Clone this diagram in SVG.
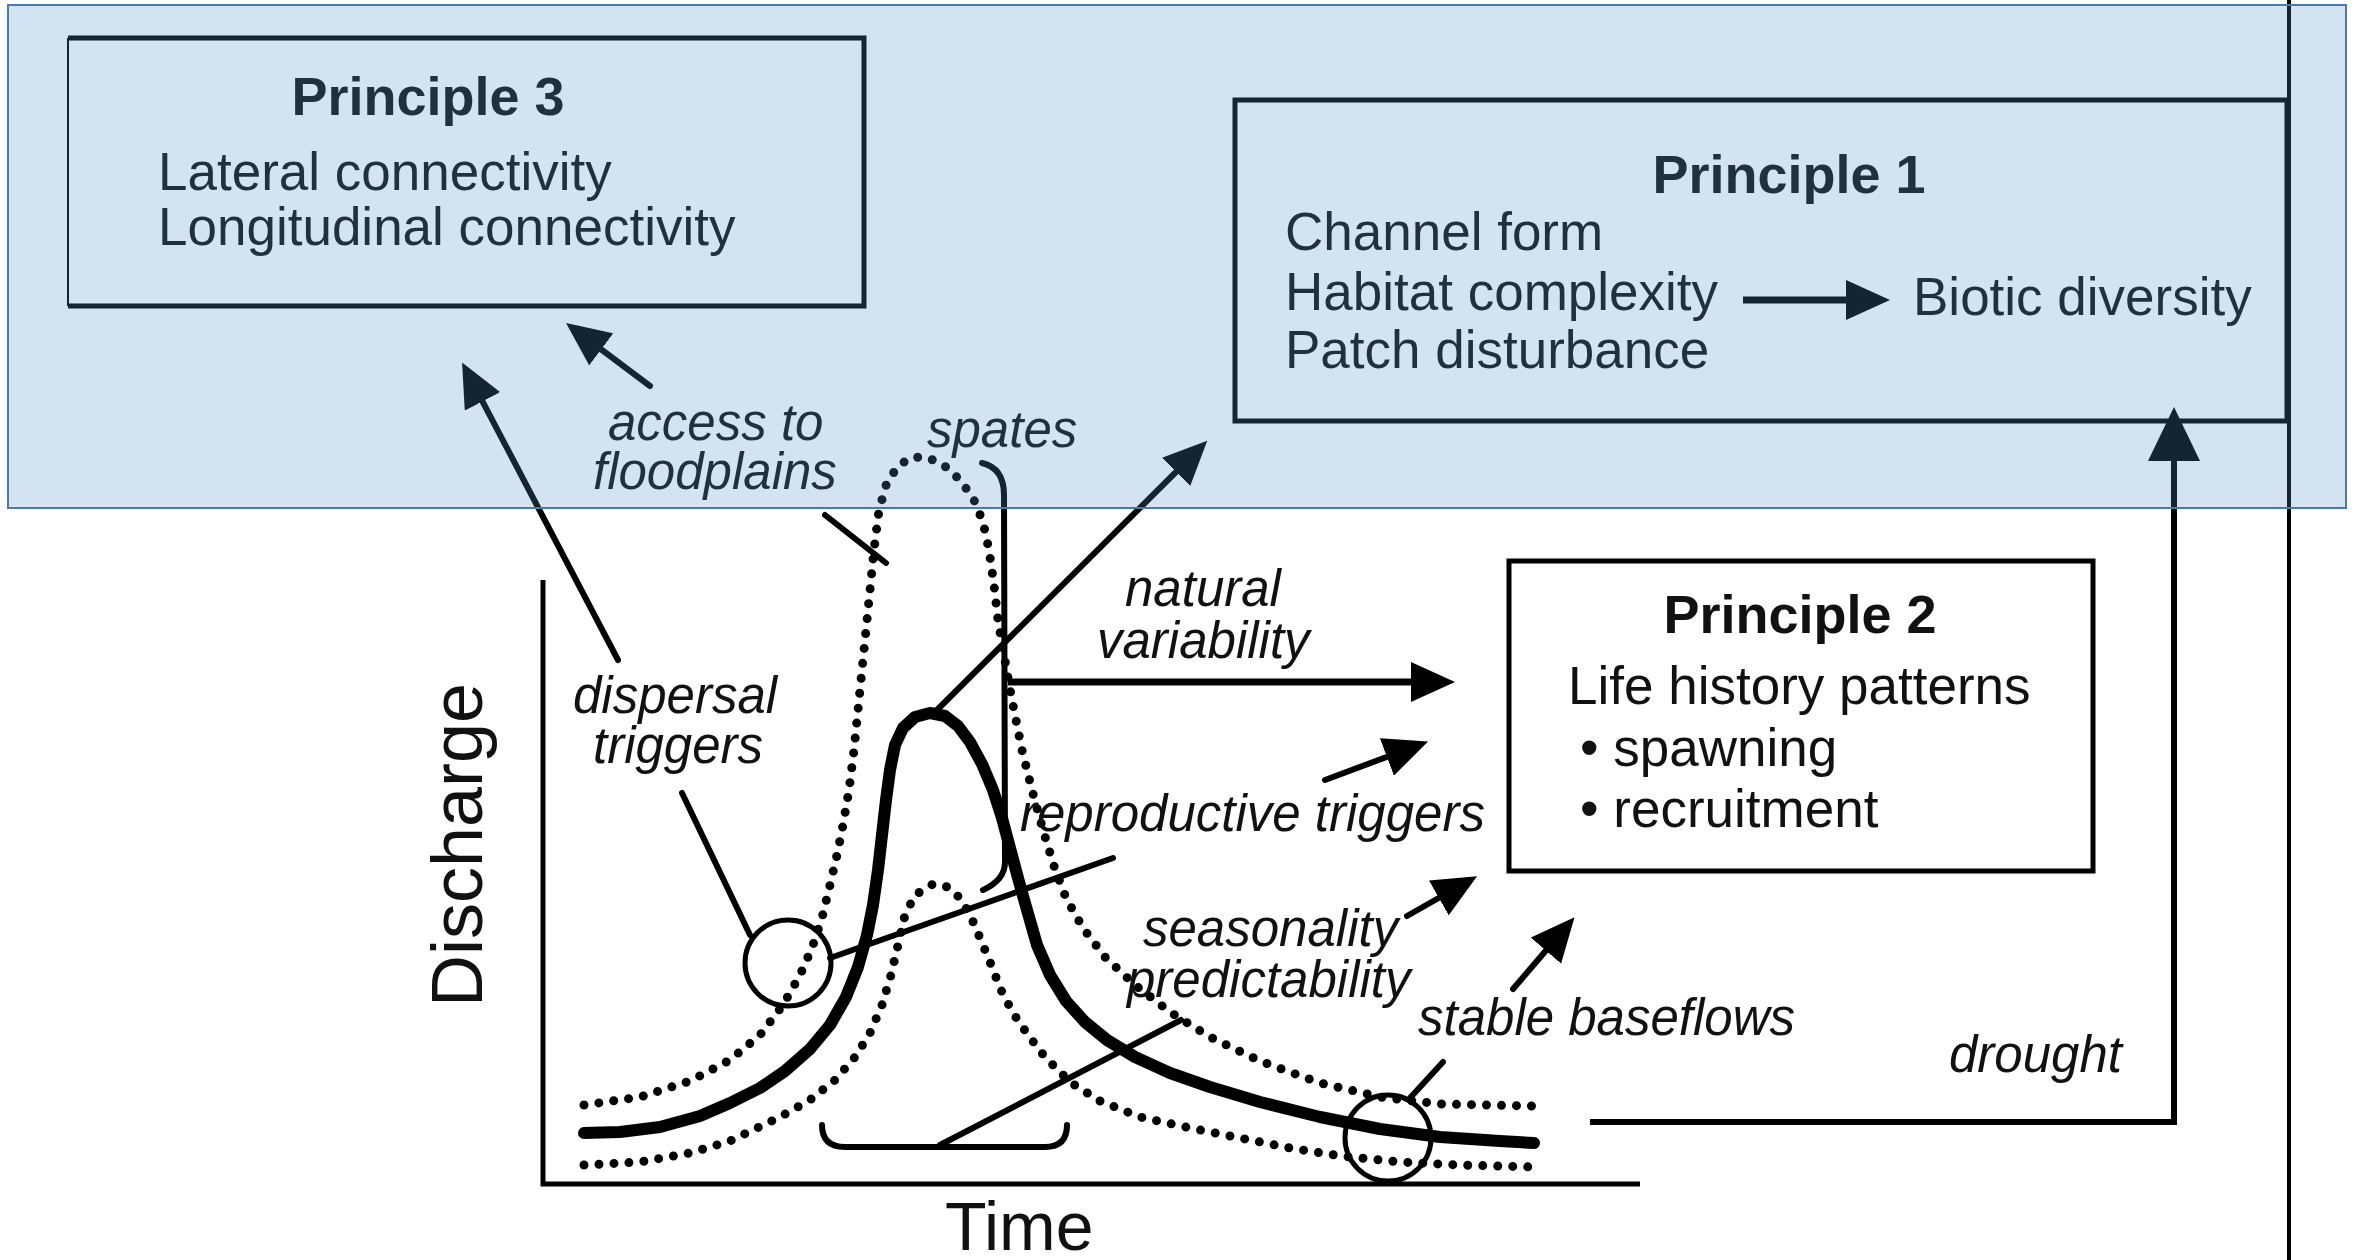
<svg xmlns="http://www.w3.org/2000/svg" width="2358" height="1260" viewBox="0 0 2358 1260">
<style>
.box{fill:none;stroke:#000;stroke-width:5;stroke-linejoin:miter}
.t{font-family:"Liberation Sans",Arial,Helvetica,sans-serif;fill:#111}
.h{font-size:54px;font-weight:bold;text-anchor:middle}
.b{font-size:53px}
.i{font-size:51px;font-style:italic}
.ln{fill:none;stroke:#000;stroke-width:6;stroke-linecap:round}
.ar{fill:none;stroke:#000;stroke-width:7;stroke-linecap:butt}
.solid{fill:none;stroke:#000;stroke-width:12;stroke-linejoin:round;stroke-linecap:round}
.dot{fill:none;stroke:#000;stroke-width:9;stroke-dasharray:0 15;stroke-linecap:round;stroke-linejoin:round}
.axis{fill:none;stroke:#000;stroke-width:5}
</style>
<defs>
<marker id="ah" viewBox="0 0 44 40" refX="14" refY="20" markerWidth="44" markerHeight="40" markerUnits="userSpaceOnUse" orient="auto"><path d="M0,0 L44,20 L0,40 Z" fill="#000"/></marker>
<marker id="ahL" viewBox="0 0 54 52" refX="16" refY="26" markerWidth="54" markerHeight="52" markerUnits="userSpaceOnUse" orient="auto"><path d="M0,0 L54,26 L0,52 Z" fill="#000"/></marker>
</defs>
<rect x="0" y="0" width="2358" height="1260" fill="#fff"/>

<line x1="2289" y1="0" x2="2289" y2="1260" stroke="#000" stroke-width="4"/>

<g id="principle-3">
<path d="M68,38 L864,38 L864,306 L68,306" class="box"/>
<line x1="68" y1="38" x2="68" y2="306" stroke="#000" stroke-width="2"/>
<text class="t h" x="428" y="115">Principle 3</text>
<text class="t b"><tspan x="158" y="190">Lateral connectivity</tspan><tspan x="158" y="245">Longitudinal connectivity</tspan></text>
</g>

<g id="principle-1">
<rect x="1235" y="100" width="1052" height="321" class="box"/>
<text class="t h" x="1789" y="193">Principle 1</text>
<text class="t b"><tspan x="1285" y="250">Channel form</tspan><tspan x="1285" y="310">Habitat complexity</tspan><tspan x="1285" y="368">Patch disturbance</tspan></text>
<text class="t b" x="1913" y="315">Biotic diversity</text>
<line x1="1743" y1="300" x2="1860" y2="300" class="ar" marker-end="url(#ah)"/>
</g>

<g id="principle-2">
<rect x="1509" y="561" width="584" height="310" class="box"/>
<text class="t h" x="1800" y="633">Principle 2</text>
<text class="t b"><tspan x="1568" y="704">Life history patterns</tspan><tspan x="1580" y="766">• spawning</tspan><tspan x="1580" y="827">• recruitment</tspan></text>
</g>

<g id="hydrograph">
<polyline class="axis" points="543,580 543,1184 1640,1184"/>
<text class="t" font-size="72" transform="translate(482,1007) rotate(-90)">Discharge</text>
<text class="t" font-size="68" x="945" y="1250">Time</text>
<polyline class="dot" points="584,1105 640,1097 690,1081 730,1060 760,1035 783,1005 800,975 812,948 822,918 830,885 837,855 843,825 849,790 854,750 859,700 864,650 869,600 874,550 879,510 887,482 899,465 913,457 929,458 946,467 961,481 974,500 983,522 989,550 994,585 998,620 1004,655 1012,700 1022,750 1032,790 1043,830 1054,866 1066,898 1083,928 1105,957 1135,985 1170,1012 1210,1037 1260,1061 1320,1083 1380,1097 1440,1104 1534,1106"/>
<polyline class="dot" points="584,1165 640,1162 690,1153 730,1141 780,1117 810,1100 835,1080 855,1057 870,1033 882,1005 891,975 898,945 905,915 915,895 933,884 948,887 961,899 971,917 980,938 990,962 1001,990 1013,1013 1028,1035 1045,1057 1070,1082 1100,1101 1140,1117 1190,1128 1240,1138 1290,1148 1341,1156 1400,1162 1460,1165 1534,1167"/>
<polyline class="solid" points="584,1133 620,1132 660,1127 700,1116 730,1103 760,1088 785,1071 810,1049 830,1025 846,997 858,967 867,935 873,905 878,870 882,835 886,800 890,770 895,745 903,728 915,717 930,713 945,716 958,726 970,742 982,764 993,790 1002,818 1010,848 1018,878 1027,910 1037,945 1050,975 1066,1001 1085,1022 1107,1040 1135,1057 1170,1073 1210,1087 1260,1102 1320,1117 1380,1129 1440,1137 1500,1141 1534,1143"/>
<circle cx="788" cy="963" r="43" fill="none" stroke="#000" stroke-width="5"/>
<circle cx="1388" cy="1138" r="43" fill="none" stroke="#000" stroke-width="5"/>
<path class="ln" d="M982,463 Q1004,468 1004,495 L1005,862 Q1005,880 983,890"/>
<path class="ln" d="M822,1125 Q822,1147 845,1147 L1045,1147 Q1067,1147 1067,1125"/>
</g>

<g id="connectors">
<line class="ln" x1="650" y1="386" x2="590" y2="341" marker-end="url(#ah)"/>
<line class="ln" x1="618" y1="660" x2="476" y2="389" marker-end="url(#ah)"/>
<line class="ln" x1="935" y1="712" x2="1186" y2="462" marker-end="url(#ah)"/>
<line class="ar" x1="1008" y1="682" x2="1425" y2="682" marker-end="url(#ah)"/>
<line class="ln" x1="1325" y1="780" x2="1400" y2="752" marker-end="url(#ah)"/>
<line class="ln" x1="1407" y1="916" x2="1451" y2="891" marker-end="url(#ah)"/>
<line class="ln" x1="1513" y1="989" x2="1555" y2="940" marker-end="url(#ah)"/>
<polyline fill="none" stroke="#000" stroke-width="6" points="1590,1122 2174,1122 2174,445" marker-end="url(#ahL)"/>
<line class="ln" x1="825" y1="515" x2="886" y2="563"/>
<line class="ln" x1="682" y1="793" x2="750" y2="935"/>
<line class="ln" x1="830" y1="958" x2="1113" y2="858"/>
<line class="ln" x1="1181" y1="1020" x2="940" y2="1145"/>
<line class="ln" x1="1443" y1="1062" x2="1410" y2="1098"/>
</g>

<g id="labels">
<text class="t i"><tspan x="608" y="440">access to</tspan><tspan x="593" y="489">floodplains</tspan></text>
<text class="t i" x="927" y="447">spates</text>
<text class="t i"><tspan x="1125" y="606">natural</tspan><tspan x="1097" y="658">variability</tspan></text>
<text class="t i"><tspan x="573" y="713">dispersal</tspan><tspan x="593" y="763">triggers</tspan></text>
<text class="t i" x="1020" y="831">reproductive triggers</text>
<text class="t i"><tspan x="1143" y="946">seasonality</tspan><tspan x="1127" y="997">predictability</tspan></text>
<text class="t i" x="1418" y="1035">stable baseflows</text>
<text class="t i" x="1949" y="1072">drought</text>
</g>

<rect id="highlight" x="8" y="5" width="2338" height="503" fill="rgb(82,143,204)" fill-opacity="0.25" stroke="#4a7aad" stroke-width="2"/>
</svg>
